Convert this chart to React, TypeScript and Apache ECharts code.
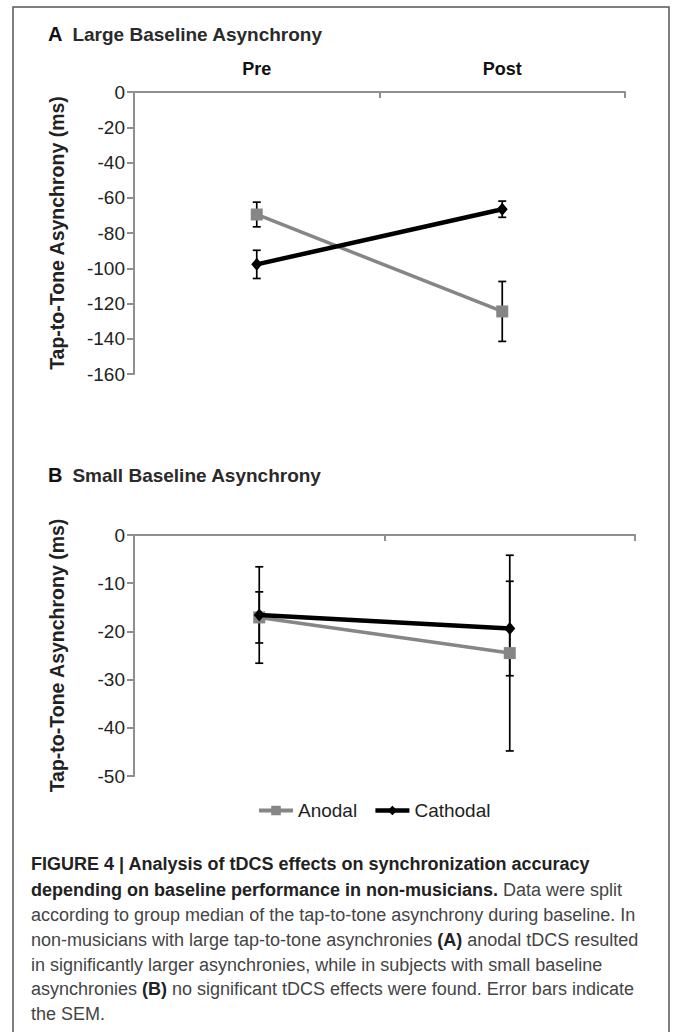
import React, { useEffect, useRef } from "react";
import * as echarts from "echarts";

const categories = ["Pre", "Post"];
const yTicksA = { min: -160, max: 0, interval: 20 };
const yTicksB = { min: -50, max: 0, interval: 10 };

const anodalA = [-69.5, -124.5];
const anodalASem = [7, 17];
const cathodalA = [-97.8, -66.5];
const cathodalASem = [8, 4.6];

const anodalB = [-17.1, -24.5];
const anodalBSem = [5.3, 20.3];
const cathodalB = [-16.6, -19.4];
const cathodalBSem = [10, 9.8];

const seriesNames = ["Anodal", "Cathodal"];
const titleA = ["A", "Large Baseline Asynchrony"];
const titleB = ["B", "Small Baseline Asynchrony"];
const yName = "Tap-to-Tone Asynchrony (ms)";

const captionLines: [string, string][][] = [
  [["b", "FIGURE 4 | Analysis of tDCS effects on synchronization accuracy"]],
  [["b", "depending on baseline performance in non-musicians."], ["n", " Data were split"]],
  [["n", "according to group median of the tap-to-tone asynchrony during baseline. In"]],
  [["n", "non-musicians with large tap-to-tone asynchronies "], ["b", "(A)"], ["n", " anodal tDCS resulted"]],
  [["n", "in significantly larger asynchronies, while in subjects with small baseline"]],
  [["n", "asynchronies "], ["b", "(B)"], ["n", " no significant tDCS effects were found. Error bars indicate"]],
  [["n", "the SEM."]],
];

const FONT = "'Liberation Sans', Arial, Helvetica, sans-serif";
const GRAY = "#868686";
const AXIS = "#8f8f8f";

function errData(mean: number[], sem: number[]) {
  return mean.map((m, i) => [i, m - sem[i], m + sem[i]]);
}

const renderErr = (params: any, api: any) => {
  const x = api.value(0);
  const lo = api.value(1);
  const hi = api.value(2);
  const p1 = api.coord([x, hi]);
  const p2 = api.coord([x, lo]);
  const w = 4;
  const st = { stroke: "#000", lineWidth: 1.7 };
  return {
    type: "group",
    children: [
      { type: "line", shape: { x1: p1[0], y1: p1[1], x2: p2[0], y2: p2[1] }, style: st },
      { type: "line", shape: { x1: p1[0] - w, y1: p1[1], x2: p1[0] + w, y2: p1[1] }, style: st },
      { type: "line", shape: { x1: p2[0] - w, y1: p2[1], x2: p2[0] + w, y2: p2[1] }, style: st },
    ],
  };
};

function yAxis(gridIndex: number, t: { min: number; max: number; interval: number }) {
  return {
    type: "value",
    gridIndex,
    min: t.min,
    max: t.max,
    interval: t.interval,
    name: yName,
    nameLocation: "middle",
    nameRotate: 90,
    nameGap: 67,
    nameTextStyle: { fontFamily: FONT, fontWeight: "bold", fontSize: 19.5, color: "#222" },
    axisLine: { show: true, lineStyle: { color: AXIS, width: 2 } },
    axisTick: { show: true, length: 7, lineStyle: { color: AXIS, width: 2 } },
    axisLabel: { fontFamily: FONT, fontSize: 19, color: "#222", margin: 9 },
    splitLine: { show: false },
  };
}

function xAxis(gridIndex: number, showLabel: boolean) {
  return {
    type: "category",
    gridIndex,
    data: categories,
    position: "top",
    boundaryGap: true,
    axisLine: { show: true, onZero: false, lineStyle: { color: AXIS, width: 2 } },
    axisTick: { show: true, inside: true, length: 6, lineStyle: { color: AXIS, width: 2 } },
    axisLabel: {
      show: showLabel,
      fontFamily: FONT,
      fontWeight: "bold",
      fontSize: 18,
      color: "#111",
      margin: 14,
    },
    splitLine: { show: false },
  };
}

function lineSeries(name: string, idx: number, data: number[], anodal: boolean) {
  return {
    name,
    type: "line",
    xAxisIndex: idx,
    yAxisIndex: idx,
    data,
    symbol: anodal ? "rect" : "diamond",
    symbolSize: anodal ? 12 : [11, 13],
    showSymbol: true,
    lineStyle: { color: anodal ? GRAY : "#000", width: anodal ? 3.5 : 4.5 },
    itemStyle: { color: anodal ? GRAY : "#000" },
    z: anodal ? 3 : 4,
  };
}

function errSeries(idx: number, data: number[][]) {
  return {
    type: "custom",
    xAxisIndex: idx,
    yAxisIndex: idx,
    renderItem: renderErr,
    encode: { x: 0, y: [1, 2] },
    data,
    z: 2,
  };
}

function titleGraphic(t: string[], y: number) {
  return {
    type: "text",
    left: 48,
    top: y,
    style: {
      text: `{b|${t[0]}}{n|${t[1]}}`,
      rich: {
        b: { fontFamily: FONT, fontWeight: "bold", fontSize: 20, fill: "#111", padding: [0, 10, 0, 0] },
        n: { fontFamily: FONT, fontSize: 19, fill: "#2a2a2a", fontWeight: "bold" },
      },
    },
  };
}

export default function App() {
  const ref = useRef<HTMLDivElement>(null);
  useEffect(() => {
    document.body.style.margin = "0";
    const chart = echarts.init(ref.current!, null, { renderer: "svg" });
    const captionY = [855, 881, 906, 931, 956, 980, 1005];
    const captionGraphics = captionLines.map((segs, i) => ({
      type: "text",
      left: 31,
      top: captionY[i],
      style: {
        text: segs.map(([s, t]) => `{${s}|${t}}`).join(""),
        rich: {
          b: { fontFamily: FONT, fontWeight: "bold", fontSize: 18, fill: "#222" },
          n: { fontFamily: FONT, fontSize: 18, fill: "#444" },
        },
      },
    }));
    chart.setOption({
      animation: false,
      backgroundColor: "#fff",
      grid: [
        { left: 134, top: 92, width: 491, height: 282 },
        { left: 134, top: 535, width: 501, height: 241 },
      ],
      xAxis: [xAxis(0, true), xAxis(1, false)],
      yAxis: [yAxis(0, yTicksA), yAxis(1, yTicksB)],
      legend: {
        data: [
          { name: seriesNames[0], lineStyle: { width: 4, color: GRAY } },
          { name: seriesNames[1], lineStyle: { width: 4.5, color: "#000" } },
        ],
        left: 252,
        top: 796,
        itemWidth: 34,
        itemHeight: 12,
        itemGap: 16,
        textStyle: { fontFamily: FONT, fontSize: 19, color: "#222" },
      },
      graphic: [
        {
          type: "rect",
          shape: { x: 13, y: 7, width: 656, height: 1040 },
          style: { fill: "none", stroke: "#555", lineWidth: 1.5 },
          silent: true,
        },
        titleGraphic(titleA, 24),
        titleGraphic(titleB, 465),
        ...captionGraphics,
      ],
      series: [
        errSeries(0, errData(anodalA, anodalASem)),
        errSeries(0, errData(cathodalA, cathodalASem)),
        lineSeries(seriesNames[0], 0, anodalA, true),
        lineSeries(seriesNames[1], 0, cathodalA, false),
        errSeries(1, errData(anodalB, anodalBSem)),
        errSeries(1, errData(cathodalB, cathodalBSem)),
        lineSeries(seriesNames[0], 1, anodalB, true),
        lineSeries(seriesNames[1], 1, cathodalB, false),
      ],
    });
    return () => chart.dispose();
  }, []);
  return <div ref={ref} style={{ width: 673, height: 1032 }} />;
}
